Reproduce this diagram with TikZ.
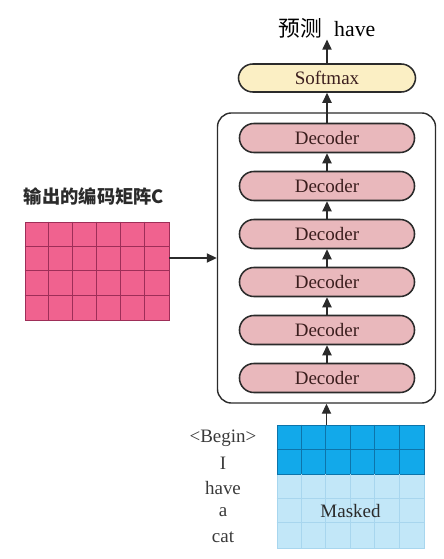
\documentclass[tikz,border=0pt]{standalone}
\usepackage{fontspec}
\setmainfont{Liberation Serif}
\newfontfamily\cjk{Noto Sans CJK SC}
\usepackage{xcolor}
\usetikzlibrary{arrows.meta,positioning,calc}
\definecolor{ink}{HTML}{2B2B2B}
\definecolor{wordgray}{HTML}{3A3A3A}
\definecolor{decfill}{HTML}{E9B8BC}
\definecolor{dectext}{HTML}{3B1E1E}
\definecolor{softfill}{HTML}{FBEFC4}
\definecolor{encpink}{HTML}{F0628F}
\definecolor{encline}{HTML}{9E2E58}
\definecolor{tgtblue}{HTML}{12A9EA}
\definecolor{tgtline}{HTML}{0D74AA}
\definecolor{maskblue}{HTML}{C2E7F8}
\definecolor{maskline}{HTML}{A8D6EE}
\tikzset{
  >={Triangle[length=2.5mm,width=2.3mm]},
  txt/.style={font=\fontsize{13.5}{16}\selectfont},
  decoderbox/.style={draw=ink,fill=decfill,rounded corners=3.6mm,line width=1.1pt,
    minimum width=4.375cm,minimum height=7.25mm,inner sep=0pt,txt,text=dectext},
  softbox/.style={decoderbox,fill=softfill,minimum width=4.425cm,minimum height=7mm},
  frame/.style={draw=ink,rounded corners=3.5mm,line width=1pt,
    minimum width=5.45cm,minimum height=7.25cm},
  flow/.style={->,line width=.9pt,color=ink},
  matrixbox/.style={inner sep=0pt,line width=.5pt},
  word/.style={txt,text=wordgray,inner sep=0pt},
}

\begin{document}
\begin{tikzpicture}[x=0.025cm,y=-0.025cm]
  \useasboundingbox (0,0) rectangle (444,559);
  % decoder stack
  \node[frame] (frame) at (326.5,258) {};
  \foreach \k/\y in {1/378,2/330,3/282,4/234,5/186,6/138}
    {\node[decoderbox] (dec\k) at (327,\y) {Decoder};}
  \foreach \a/\b in {1/2,2/3,3/4,4/5,5/6}
    {\draw[flow] (dec\a.north) -- (dec\b.south);}
  \node[softbox] (soft) at (327,78) {Softmax};
  \node[txt,font=\fontsize{15.5}{18}\selectfont,inner sep=1pt] (pred) at (327,28)
    {{\cjk 预测}\hspace{0.55em}have};
  \draw[flow] (dec6.north) -- (soft.south);
  \draw[flow] (soft.north) -- (soft.north |- pred.south);
  % encoder output matrix C
  \node[font=\cjk\bfseries\fontsize{13}{15}\selectfont,text=ink,inner sep=0pt] (clabel) at (94,197)
    {输出的编码矩阵C};
  \node[matrixbox,draw=encline,fill=encpink,minimum width=3.6cm,minimum height=2.45cm]
    (enc) at (97,271) {};
  \foreach \i in {1,...,5}
    {\draw[encline,line width=.5pt] ($(enc.north west)+(24*\i,0)$) -- ($(enc.south west)+(24*\i,0)$);}
  \foreach \j in {1,2,3}
    {\draw[encline,line width=.5pt] ($(enc.north west)+(0,24.5*\j)$) -- ($(enc.north east)+(0,24.5*\j)$);}
  \draw[flow] (enc.east |- frame.west) -- (frame.west);
  % decoder input with mask
  \node[matrixbox,draw=maskline,fill=maskblue,minimum width=3.675cm,minimum height=1.85cm]
    (mask) at (350.5,511) {};
  \node[matrixbox,draw=tgtline,fill=tgtblue,minimum width=3.675cm,minimum height=1.225cm]
    (tgt) at (350.5,449.5) {};
  \foreach \i in {1,...,5}
    {\draw[tgtline,line width=.5pt] ($(tgt.north west)+(24.5*\i,0)$) -- ($(tgt.south west)+(24.5*\i,0)$);
     \draw[maskline,line width=.5pt] ($(mask.north west)+(24.5*\i,0)$) -- ($(mask.south west)+(24.5*\i,0)$);}
  \draw[tgtline,line width=.5pt] ($(tgt.north west)+(0,24.5)$) -- ($(tgt.north east)+(0,24.5)$);
  \foreach \j in {1,2}
    {\draw[maskline,line width=.5pt] ($(mask.north west)+(0,24.6*\j)$) -- ($(mask.north east)+(0,24.6*\j)$);}
  \node[txt,text=ink,inner sep=1pt] (masklabel) at (mask.center) {Masked};
  \draw[flow] (frame.south |- tgt.north) -- (frame.south);
  % input words
  \foreach \t/\y [count=\n] in {<Begin>/438,I/463,have/488,a/512,cat/537}
    {\node[word] (w\n) at (223,\y) {\t};}
\end{tikzpicture}
\end{document}
